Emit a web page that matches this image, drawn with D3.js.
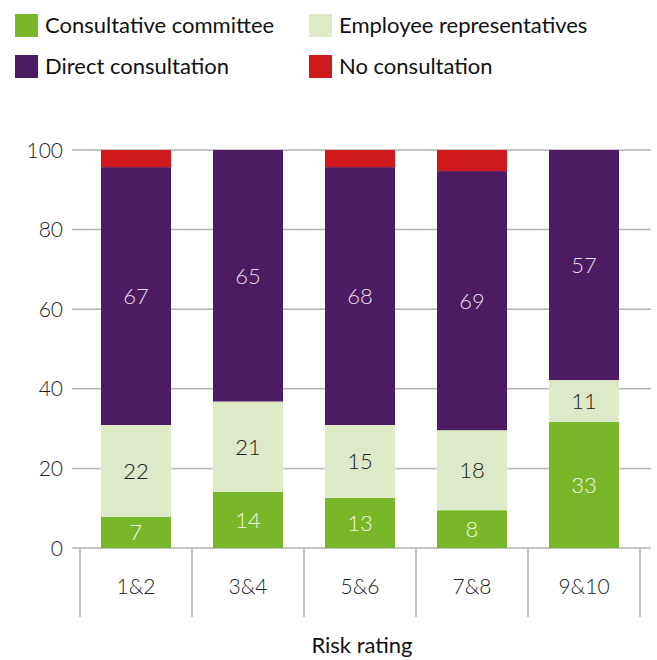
<!DOCTYPE html>
<html><head><meta charset="utf-8">
<script src="https://cdn.jsdelivr.net/npm/d3@7"></script>
<style>body{margin:0;background:#fff;}svg{display:block;font-family:Lato,"Open Sans",sans-serif;font-weight:300;}</style>
</head><body>
<script>
const categories = ["1&2","3&4","5&6","7&8","9&10"];
const seriesNames = ["Consultative committee","Employee representatives","Direct consultation","No consultation"];
const consultative = [7.8, 14.1, 12.6, 9.5, 31.7];
const employeeReps = [23.1, 22.7, 18.3, 20.1, 10.5];
const direct = [64.8, 63.2, 64.8, 65.1, 57.8];
const noConsult = [4.3, 0, 4.3, 5.3, 0];
const consultativeLabels = ["7","14","13","8","33"];
const employeeRepsLabels = ["22","21","15","18","11"];
const directLabels = ["67","65","68","69","57"];
const yTicks = [0,20,40,60,80,100];
const xTitle = "Risk rating";

const colors = ["#78b72a","#dde9c7","#4d1b61","#cf1a1d"];
const labelColors = ["#f4f7ea","#222222","#e8def0",null];

const W = 657, H = 660;
const svg = d3.select("body").append("svg").attr("width",W).attr("height",H);

const x = d3.scaleBand().domain(categories).range([80,640]).paddingInner(0.375).paddingOuter(0.1875);
const y = d3.scaleLinear().domain([0,100]).range([548,150]);

// gridlines
svg.append("g").selectAll("line").data(yTicks).join("line")
  .attr("x1",72).attr("x2",651)
  .attr("y1",d=>y(d)).attr("y2",d=>y(d))
  .attr("stroke","#b3b3b3").attr("stroke-width",1.5);

// y tick labels
svg.append("g").selectAll("text").data(yTicks).join("text")
  .attr("x",63).attr("y",d=>y(d)).attr("dy","0.36em")
  .attr("text-anchor","end").attr("font-size",21).attr("fill","#222")
  .text(d=>d);

// stack
const rows = categories.map((c,i)=>({cat:c, cc:consultative[i], er:employeeReps[i], dc:direct[i], nc:noConsult[i],
  lcc:consultativeLabels[i], ler:employeeRepsLabels[i], ldc:directLabels[i]}));
const keys = ["cc","er","dc","nc"];
const lkeys = ["lcc","ler","ldc",null];
const stacked = d3.stack().keys(keys)(rows);

const g = svg.append("g");
stacked.forEach((layer,k)=>{
  g.append("g").selectAll("rect").data(layer.filter(d=>d[1]-d[0]>0)).join("rect")
    .attr("x",d=>x(d.data.cat)).attr("width",x.bandwidth())
    .attr("y",d=>y(d[1])).attr("height",d=>y(d[0])-y(d[1]))
    .attr("fill",colors[k]);
  if (lkeys[k]) {
    g.append("g").selectAll("text").data(layer).join("text")
      .attr("x",d=>x(d.data.cat)+x.bandwidth()/2)
      .attr("y",d=>(y(d[0])+y(d[1]))/2).attr("dy","0.36em")
      .attr("text-anchor","middle").attr("font-size",22).attr("fill",labelColors[k])
      .text(d=>d.data[lkeys[k]]);
  }
});

// bottom category dividers
const bounds = categories.map(c=>x(c)-x.step()*x.paddingInner()/2 ).concat([640]);
svg.append("g").selectAll("line").data(bounds).join("line")
  .attr("x1",d=>d).attr("x2",d=>d).attr("y1",548).attr("y2",617)
  .attr("stroke","#b3b3b3").attr("stroke-width",1.5);

svg.append("g").selectAll("text").data(categories).join("text")
  .attr("x",d=>x(d)+x.bandwidth()/2).attr("y",586).attr("dy","0.36em")
  .attr("text-anchor","middle").attr("font-size",21).attr("fill","#222")
  .text(d=>d);

svg.append("text").attr("x",362).attr("y",653).attr("text-anchor","middle")
  .attr("font-size",22).attr("font-weight",400).attr("fill","#111").text(xTitle);

// legend
const legPos = [[15,14],[309,14],[15,55],[309,55]];
const legOrder = [0,1,2,3];
const leg = svg.append("g").selectAll("g").data(legOrder).join("g")
  .attr("transform",(d,i)=>`translate(${legPos[i][0]},${legPos[i][1]})`);
leg.append("rect").attr("width",23).attr("height",23).attr("fill",d=>colors[d]);
leg.append("text").attr("x",30).attr("y",11.5).attr("dy","0.36em")
  .attr("font-size",22).attr("font-weight",400).attr("fill","#111").text(d=>seriesNames[d]);
</script>
</body></html>
